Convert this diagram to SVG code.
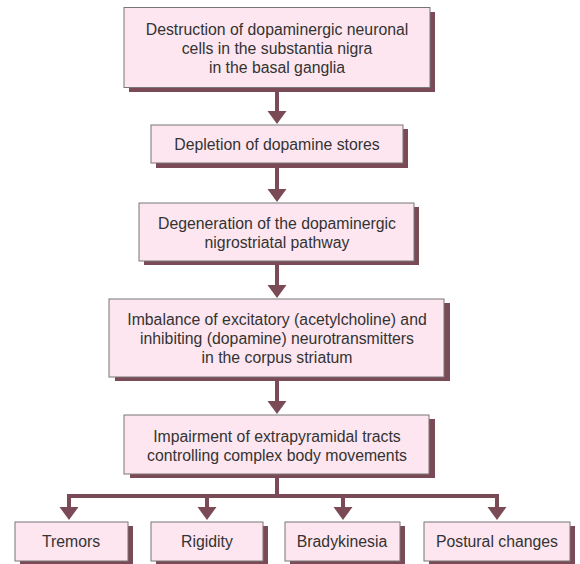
<svg xmlns="http://www.w3.org/2000/svg" width="580" height="564" viewBox="0 0 580 564">
<defs>
<style>
.sh{fill:#7a4b57;}
.bx{fill:#fde6ef;stroke:#777;stroke-width:1;}
.t{font-family:"Liberation Sans",Arial,sans-serif;font-size:15.8px;fill:#333;text-anchor:middle;}
.ln{stroke:#7a4b57;stroke-width:4;fill:none;}
.ah{fill:#7a4b57;}
</style>
</defs>
<rect width="580" height="564" fill="#fff"/>
<g id="connectors">
<line class="ln" x1="277" y1="92" x2="277" y2="113"/>
<polygon class="ah" points="267.5,111 286.5,111 277,124"/>
<line class="ln" x1="277" y1="168" x2="277" y2="191"/>
<polygon class="ah" points="267.5,189 286.5,189 277,202"/>
<line class="ln" x1="277" y1="265" x2="277" y2="287"/>
<polygon class="ah" points="267.5,285 286.5,285 277,298"/>
<line class="ln" x1="277" y1="381" x2="277" y2="403"/>
<polygon class="ah" points="267.5,401 286.5,401 277,414"/>
<line class="ln" x1="277" y1="478" x2="277" y2="496"/>
<polyline class="ln" points="69,509 69,496 497,496 497,509"/>
<line class="ln" x1="207" y1="496" x2="207" y2="509"/>
<line class="ln" x1="343" y1="496" x2="343" y2="509"/>
<polygon class="ah" points="59.5,507 78.5,507 69,520"/>
<polygon class="ah" points="197.5,507 216.5,507 207,520"/>
<polygon class="ah" points="333.5,507 352.5,507 343,520"/>
<polygon class="ah" points="487.5,507 506.5,507 497,520"/>
</g>
<g id="n1">
<rect class="sh" x="129" y="12" width="306" height="80"/>
<rect class="bx" x="124" y="7.5" width="306" height="80"/>
<text class="t" x="277" y="35">Destruction of dopaminergic neuronal</text>
<text class="t" x="277" y="54">cells in the substantia nigra</text>
<text class="t" x="277" y="73">in the basal ganglia</text>
</g>
<g id="n2">
<rect class="sh" x="156" y="129" width="252" height="39"/>
<rect class="bx" x="151" y="125" width="252" height="38"/>
<text class="t" x="277" y="150">Depletion of dopamine stores</text>
</g>
<g id="n3">
<rect class="sh" x="144" y="207" width="275" height="58"/>
<rect class="bx" x="139" y="203" width="275" height="58"/>
<text class="t" x="277" y="229">Degeneration of the dopaminergic</text>
<text class="t" x="277" y="248">nigrostriatal pathway</text>
</g>
<g id="n4">
<rect class="sh" x="115" y="303" width="335" height="78"/>
<rect class="bx" x="109" y="299" width="335" height="78"/>
<text class="t" x="277" y="325">Imbalance of excitatory (acetylcholine) and</text>
<text class="t" x="277" y="344">inhibiting (dopamine) neurotransmitters</text>
<text class="t" x="277" y="363">in the corpus striatum</text>
</g>
<g id="n5">
<rect class="sh" x="130" y="419" width="305" height="59"/>
<rect class="bx" x="124" y="415" width="305" height="59"/>
<text class="t" x="277" y="442">Impairment of extrapyramidal tracts</text>
<text class="t" x="277" y="461">controlling complex body movements</text>
</g>
<g id="n6">
<rect class="sh" x="20" y="526" width="113" height="40"/>
<rect class="bx" x="15" y="522" width="113" height="39"/>
<text class="t" x="71" y="547">Tremors</text>
</g>
<g id="n7">
<rect class="sh" x="156" y="526" width="112" height="40"/>
<rect class="bx" x="151" y="522" width="112" height="39"/>
<text class="t" x="207" y="547">Rigidity</text>
</g>
<g id="n8">
<rect class="sh" x="290" y="526" width="115" height="40"/>
<rect class="bx" x="285" y="522" width="115" height="39"/>
<text class="t" x="342" y="547">Bradykinesia</text>
</g>
<g id="n9">
<rect class="sh" x="429" y="526" width="146" height="40"/>
<rect class="bx" x="424" y="522" width="146" height="39"/>
<text class="t" x="497" y="547">Postural changes</text>
</g>
</svg>
